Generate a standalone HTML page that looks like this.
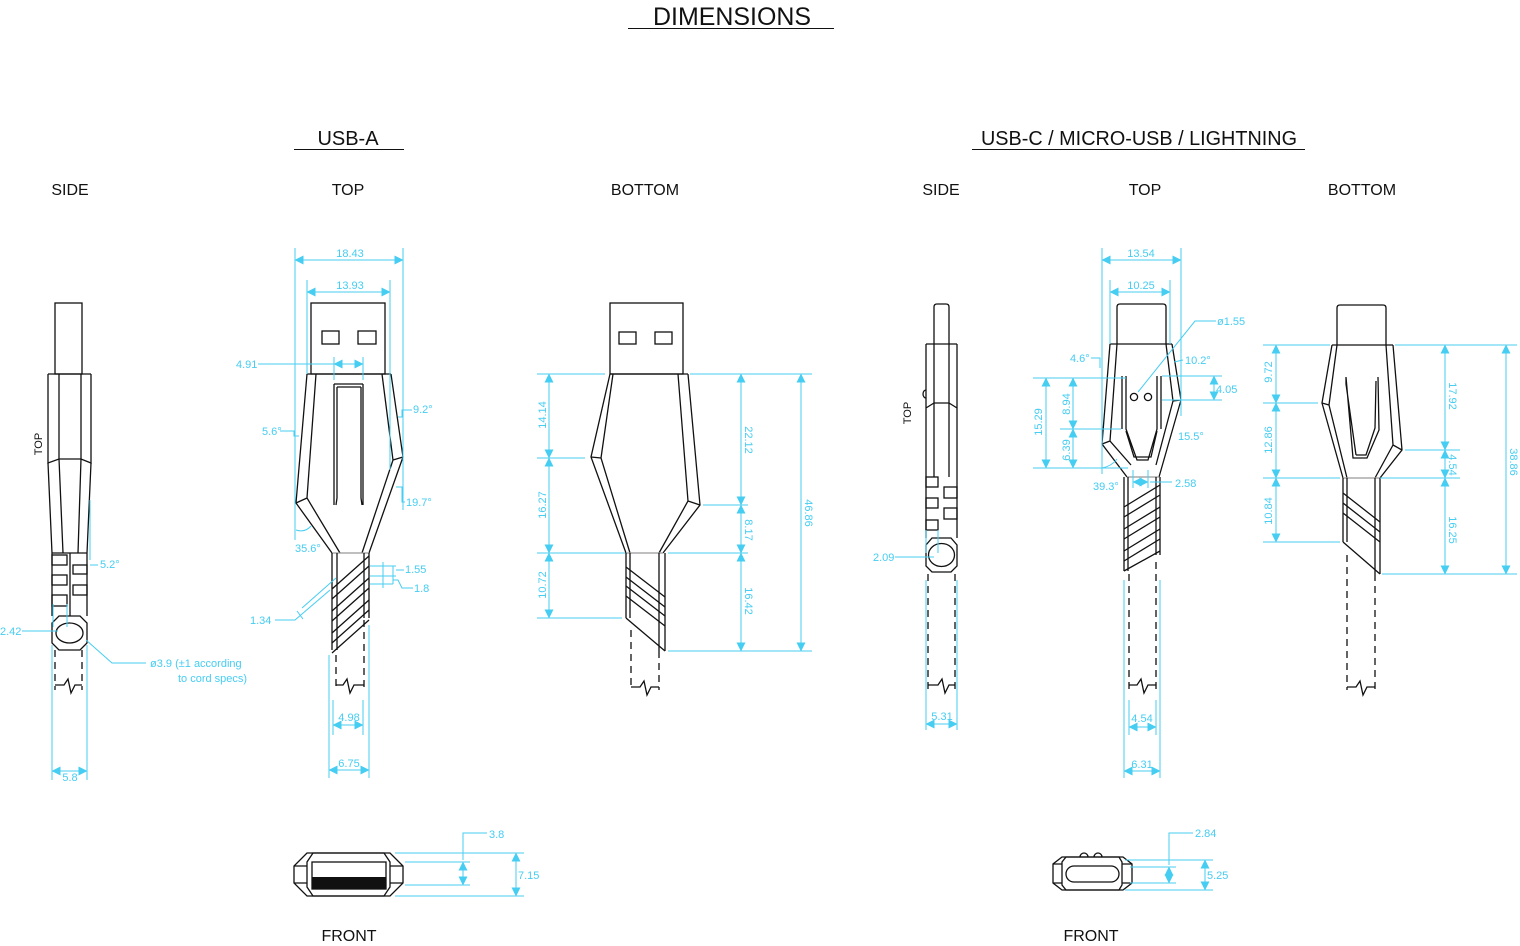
<!DOCTYPE html>
<html><head><meta charset="utf-8"><style>
html,body{margin:0;padding:0;background:#fff;}
svg{display:block;}
.k{stroke:#111;fill:none;stroke-width:1.3;stroke-linejoin:miter;}
.g{stroke:#999;fill:none;stroke-width:1.2;}
.d{stroke:#111;fill:none;stroke-width:1.3;stroke-dasharray:7 5;}
.b{stroke:#45cdf2;fill:none;stroke-width:1;}
.a{marker-start:url(#ar);marker-end:url(#ar);}
.t{font-family:"Liberation Sans",sans-serif;fill:#111;}
.bt{font-family:"Liberation Sans",sans-serif;fill:#45cdf2;font-size:11px;}
</style></head><body>
<svg width="1520" height="946" viewBox="0 0 1520 946" xmlns="http://www.w3.org/2000/svg">
<defs>
<marker id="ar" viewBox="0 0 10 10" refX="9.5" refY="5" markerWidth="9" markerHeight="9" markerUnits="userSpaceOnUse" orient="auto-start-reverse">
<path d="M0,0 L10,5 L0,10 z" fill="#45cdf2"/></marker>
</defs>

<!-- Titles -->
<text class="t" x="732" y="25" font-size="25" text-anchor="middle" textLength="158" lengthAdjust="spacingAndGlyphs">DIMENSIONS</text>
<line x1="628" y1="28.5" x2="834" y2="28.5" stroke="#111"/>
<text class="t" x="348" y="145" font-size="20" text-anchor="middle">USB-A</text>
<line x1="294" y1="149.5" x2="404" y2="149.5" stroke="#111"/>
<text class="t" x="1139" y="145" font-size="20" text-anchor="middle" textLength="316" lengthAdjust="spacingAndGlyphs">USB-C / MICRO-USB / LIGHTNING</text>
<line x1="972" y1="149.5" x2="1305" y2="149.5" stroke="#111"/>
<g class="t" font-size="16" text-anchor="middle">
<text x="70" y="195">SIDE</text><text x="348" y="195">TOP</text><text x="645" y="195">BOTTOM</text>
<text x="941" y="195">SIDE</text><text x="1145" y="195">TOP</text><text x="1362" y="195">BOTTOM</text>
<text x="349" y="941">FRONT</text><text x="1091" y="941">FRONT</text>
</g>

<!-- ========== USB-A SIDE ========== -->
<rect class="k" x="55" y="303" width="27" height="71"/>
<path class="k" d="M48,374 H91 M48,374 V463 L59,459 H81 L91,463 V374 M59,374 V459 M81,374 V459"/>
<path class="k" d="M48,463 L52,553 M91,463 L87,553 M59,459 L63,553 M81,459 L78,553 M52,553 H87"/>
<path class="k" d="M52,553 V616 M87,553 V616 M70,553 V616"/>
<rect class="k" x="52" y="555" width="15" height="10"/><rect class="k" x="52" y="575" width="15" height="10"/><rect class="k" x="52" y="595" width="15" height="11"/>
<rect class="k" x="73" y="565" width="14" height="9"/><rect class="k" x="73" y="585" width="14" height="10"/>
<polygon class="k" points="59,616 80,616 87,623 87,643 80,650 59,650 52,643 52,623"/>
<ellipse class="k" cx="69.5" cy="633" rx="13.5" ry="10"/>
<path class="d" d="M55,650 V690 M82,650 V690"/>
<path class="k" d="M55,685 H64 L68,679 L71,693 L75,685 H82"/>
<text class="t" x="42" y="444" font-size="11" transform="rotate(-90 42 444)" text-anchor="middle">TOP</text>
<path class="b" d="M52,645 V780 M87,645 V780 M90,500 V560 M90,565 H98"/>
<line class="b a" x1="52" y1="771" x2="87" y2="771"/>
<text class="bt" x="70" y="781" text-anchor="middle">5.8</text>
<text class="bt" x="100" y="568">5.2°</text>
<path class="b" d="M22,631 H58 M53,604 V627 M67,604 V627 M86,640 L112,663 H146"/>
<text class="bt" x="0" y="635">2.42</text>
<text class="bt" x="150" y="667">ø3.9 (±1 according</text>
<text class="bt" x="178" y="682">to cord specs)</text>

<!-- ========== USB-A TOP ========== -->
<rect class="k" x="311" y="303" width="74" height="71"/>
<rect class="k" x="322" y="331" width="17" height="13"/><rect class="k" x="358" y="331" width="18" height="13"/>
<path class="k" d="M307,374 H391 M307,374 L296,503 L332,553 M316,374 L307,498 L340,553 M307,498 L296,503"/>
<path class="k" d="M391,374 L403,457 L369,553 M382,374 L393,460 L362,553 M393,460 L403,457"/>
<path class="k" d="M334,384 V505 M363,384 V505 M337,387 V498 L336,505 M361,387 V498 L362,505 M334,384 H363 M337,387 H361"/>
<line class="g" x1="332" y1="553" x2="369" y2="553"/>
<path class="k" d="M332,553 V650 M337,553 V650 M369,553 V618 M364,553 V618"/>
<path class="k" d="M332,589 L369,556 M332,599 L369,566 M332,611 L369,578 M332,621 L369,588 M332,633 L369,600 M332,643 L369,610 M332,653 L369,620"/>
<path class="d" d="M336,655 V690 M364,620 V690"/>
<path class="k" d="M336,685 H343 L347,679 L350,693 L354,685 H364"/>
<path class="b" d="M295,248 V540 M403,248 V510 M307,280 V374 M390,280 V470"/>
<line class="b a" x1="295" y1="260" x2="403" y2="260"/><text class="bt" x="350" y="257" text-anchor="middle">18.43</text>
<line class="b a" x1="307" y1="292" x2="390" y2="292"/><text class="bt" x="350" y="289" text-anchor="middle">13.93</text>
<path class="b" d="M258,364 H334 M334,357 V380 M363,357 V380"/>
<line class="b a" x1="334" y1="364" x2="363" y2="364"/><text class="bt" x="236" y="368">4.91</text>
<path class="b" d="M280,431 H294 V436 H299"/><text class="bt" x="262" y="435">5.6°</text>
<path class="b" d="M398,417 H402 V410 H412"/><text class="bt" x="413" y="413">9.2°</text>
<path class="b" d="M396,487 H402 V502 H405"/><text class="bt" x="406" y="506">19.7°</text>
<path class="b" d="M296,530 Q305,533 311,526"/><text class="bt" x="295" y="552">35.6°</text>
<path class="b" d="M370,566 H396 M370,576 H396 M370,584 H393 M393,566 V584 M383,562 V588 M396,570 H404 M393,580 H398 L402,588 H413"/>
<text class="bt" x="405" y="573">1.55</text><text class="bt" x="414" y="592">1.8</text>
<path class="b" d="M275,620 H295 L330,590 M302,608 L336,578 M297,611 L303,619"/>
<text class="bt" x="250" y="624">1.34</text>
<path class="b" d="M333,700 V735 M363,700 V735 M329,655 V778 M369,625 V778"/>
<line class="b a" x1="333" y1="725" x2="363" y2="725"/><text class="bt" x="349" y="721" text-anchor="middle">4.98</text>
<line class="b a" x1="329" y1="770" x2="369" y2="770"/><text class="bt" x="349" y="767" text-anchor="middle">6.75</text>

<!-- ========== USB-A BOTTOM ========== -->
<rect class="k" x="610" y="303" width="73" height="71"/>
<rect class="k" x="619" y="332" width="17" height="12"/><rect class="k" x="655" y="332" width="17" height="12"/>
<path class="k" d="M610,374 H688 M610,374 L591,457 L626,553 M613,374 L601,458 L630,553 M591,457 L601,458"/>
<path class="k" d="M688,374 L700,505 L663,553 M678,374 L688,501 L659,553 M688,501 L700,505"/>
<line class="g" x1="626" y1="553" x2="663" y2="553"/>
<path class="k" d="M626,553 V618 M630,553 V618 M659,553 V651 M665,553 V651"/>
<path class="k" d="M626,567 L665,597 M626,577 L665,607 M626,586 L665,616 M626,596 L665,626 M626,618 L665,651"/>
<path class="d" d="M631,630 V690 M659,651 V690"/>
<path class="k" d="M631,687 H640 L644,681 L647,695 L651,687 H659"/>
<path class="b" d="M537,374 H605 M690,374 H812 M537,458 H585 M703,505 H748 M537,553 H625 M668,553 H748 M537,618 H622 M668,651 H812"/>
<line class="b a" x1="549" y1="374" x2="549" y2="458"/><line class="b a" x1="549" y1="458" x2="549" y2="553"/><line class="b a" x1="549" y1="553" x2="549" y2="618"/>
<line class="b a" x1="741" y1="374" x2="741" y2="505"/><line class="b a" x1="741" y1="505" x2="741" y2="553"/><line class="b a" x1="741" y1="553" x2="741" y2="651"/>
<line class="b a" x1="801" y1="374" x2="801" y2="651"/>
<g class="bt" text-anchor="middle">
<text transform="translate(546,415) rotate(-90)">14.14</text>
<text transform="translate(546,505) rotate(-90)">16.27</text>
<text transform="translate(546,585) rotate(-90)">10.72</text>
<text transform="translate(745,440) rotate(90)">22.12</text>
<text transform="translate(745,530) rotate(90)">8.17</text>
<text transform="translate(745,601) rotate(90)">16.42</text>
<text transform="translate(805,513) rotate(90)">46.86</text>
</g>

<!-- ========== USB-C SIDE ========== -->
<path class="k" d="M934,344 V307 Q934,304 937,304 H946 Q949,304 949,307 V344"/>
<path class="k" d="M926,344 H957 M926,344 V538 M957,344 V538 M934,344 V477 M949,344 V477 M926,408 L934,403 H949 L957,408"/>
<path class="k" d="M926,398 A3,4 0 0 1 926,390"/>
<rect class="k" x="926" y="477" width="12" height="10"/><rect class="k" x="926" y="498" width="12" height="10"/><rect class="k" x="926" y="520" width="12" height="10"/>
<rect class="k" x="944" y="487" width="13" height="11"/><rect class="k" x="944" y="508" width="13" height="11"/>
<polygon class="k" points="932,538 951,538 957,545 957,566 951,572 932,572 926,566 926,545"/>
<ellipse class="k" cx="941.5" cy="555" rx="13" ry="11.5"/>
<path class="d" d="M928,574 V690 M955,574 V690"/>
<path class="k" d="M928,685 H938 L942,679 L945,693 L949,685 H955"/>
<text class="t" x="911" y="413" font-size="11" transform="rotate(-90 911 413)" text-anchor="middle">TOP</text>
<path class="b" d="M895,557 H934 M926,530 V553 M938,530 V553 M926,580 V730 M957,580 V730"/>
<text class="bt" x="873" y="561">2.09</text>
<line class="b a" x1="926" y1="724" x2="957" y2="724"/><text class="bt" x="942" y="720" text-anchor="middle">5.31</text>

<!-- ========== USB-C TOP ========== -->
<path class="k" d="M1117,344 V307 Q1117,304 1120,304 H1163 Q1166,304 1166,307 V344"/>
<path class="k" d="M1110,344 H1172 M1110,344 L1102,444 L1127,477 M1117,344 L1110,441 L1131,465 M1102,444 L1110,441"/>
<path class="k" d="M1172,344 L1181,400 L1159,477 M1166,344 L1173,401 L1156,465 M1181,400 L1173,401"/>
<path class="k" d="M1126,376 V429 L1137,460 H1148 L1157,429 V376 M1122,376 V429 M1161,376 V429 M1126,431 L1134,457 H1151 L1157,431"/>
<circle class="k" cx="1134" cy="397" r="3.6"/><circle class="k" cx="1148" cy="397" r="3.6"/>
<line class="g" x1="1127" y1="477" x2="1159" y2="477"/>
<path class="k" d="M1124,477 V571 M1128,477 V571 M1160,477 V555 M1156,477 V555"/>
<path class="k" d="M1124,507 L1160,485 M1124,517 L1160,495 M1124,529 L1160,507 M1124,539 L1160,517 M1124,551 L1160,529 M1124,561 L1160,539 M1124,571 L1160,551"/>
<path class="d" d="M1129,574 V690 M1156,562 V690"/>
<path class="k" d="M1129,685 H1137 L1141,679 L1144,693 L1148,685 H1156"/>
<path class="b" d="M1102,248 V474 M1181,248 V416 M1110,280 V344 M1170,280 V344"/>
<line class="b a" x1="1102" y1="260" x2="1181" y2="260"/><text class="bt" x="1141" y="257" text-anchor="middle">13.54</text>
<line class="b a" x1="1110" y1="292" x2="1170" y2="292"/><text class="bt" x="1141" y="289" text-anchor="middle">10.25</text>
<path class="b" d="M1216,321 H1195 L1138,392"/><text class="bt" x="1217" y="325">ø1.55</text>
<path class="b" d="M1091,358 H1100 V368"/><text class="bt" x="1070" y="362">4.6°</text>
<path class="b" d="M1174,362 L1183,360"/><text class="bt" x="1185" y="364">10.2°</text>
<path class="b" d="M1162,376 H1222 M1162,400 H1222"/>
<line class="b a" x1="1214" y1="376" x2="1214" y2="400"/><text class="bt" x="1216" y="393">4.05</text>
<text class="bt" x="1178" y="440">15.5°</text>
<path class="b" d="M1033,378 H1126 M1060,429 H1121 M1033,468 H1128"/>
<line class="b a" x1="1046" y1="378" x2="1046" y2="468"/>
<line class="b a" x1="1073" y1="378" x2="1073" y2="429"/><line class="b a" x1="1073" y1="429" x2="1073" y2="468"/>
<g class="bt" text-anchor="middle">
<text transform="translate(1042,422) rotate(-90)">15.29</text>
<text transform="translate(1070,404) rotate(-90)">8.94</text>
<text transform="translate(1070,450) rotate(-90)">6.39</text>
</g>
<path class="b" d="M1102,468 Q1112,466 1117,459"/><text class="bt" x="1093" y="490">39.3°</text>
<path class="b" d="M1133,470 V488 M1148,470 V488 M1150,482 H1172"/>
<line class="b a" x1="1133" y1="482" x2="1148" y2="482"/><text class="bt" x="1175" y="487">2.58</text>
<path class="b" d="M1129,700 V735 M1156,700 V735 M1124,580 V778 M1160,580 V778"/>
<line class="b a" x1="1129" y1="727" x2="1156" y2="727"/><text class="bt" x="1142" y="722" text-anchor="middle">4.54</text>
<line class="b a" x1="1124" y1="771" x2="1160" y2="771"/><text class="bt" x="1142" y="768" text-anchor="middle">6.31</text>

<!-- ========== USB-C BOTTOM ========== -->
<path class="k" d="M1337,345 V308 Q1337,305 1340,305 H1383 Q1386,305 1386,308 V345"/>
<path class="k" d="M1332,345 H1393 M1332,345 L1322,403 L1343,478 M1337,345 L1329,405 L1347,478 M1322,403 L1329,405"/>
<path class="k" d="M1393,345 L1402,450 L1380,478 M1386,345 L1393,445 L1375,478 M1393,445 L1402,450"/>
<path class="k" d="M1346,377 L1353,458 H1367 L1379,430 L1378,377 M1346,377 V384 L1356,455 M1376,381 L1375,428 L1366,455 H1356"/>
<line class="g" x1="1343" y1="478" x2="1380" y2="478"/>
<path class="k" d="M1343,478 V542 M1347,478 V542 M1375,478 V574 M1380,478 V574"/>
<path class="k" d="M1343,493 L1380,522 M1343,503 L1380,532 M1343,513 L1380,542 M1343,542 L1380,574"/>
<path class="d" d="M1347,555 V690 M1375,574 V690"/>
<path class="k" d="M1347,687 H1356 L1360,681 L1363,695 L1367,687 H1375"/>
<path class="b" d="M1263,345 H1330 M1395,345 H1517 M1263,403 H1318 M1263,478 H1340 M1380,478 H1460 M1405,450 H1460 M1263,542 H1340 M1382,574 H1517"/>
<line class="b a" x1="1276" y1="345" x2="1276" y2="403"/><line class="b a" x1="1276" y1="403" x2="1276" y2="478"/><line class="b a" x1="1276" y1="478" x2="1276" y2="542"/>
<line class="b a" x1="1445" y1="345" x2="1445" y2="450"/><line class="b a" x1="1445" y1="450" x2="1445" y2="478"/><line class="b a" x1="1445" y1="478" x2="1445" y2="574"/>
<line class="b a" x1="1506" y1="345" x2="1506" y2="574"/>
<g class="bt" text-anchor="middle">
<text transform="translate(1272,372) rotate(-90)">9.72</text>
<text transform="translate(1272,440) rotate(-90)">12.86</text>
<text transform="translate(1272,511) rotate(-90)">10.84</text>
<text transform="translate(1449,396) rotate(90)">17.92</text>
<text transform="translate(1449,465) rotate(90)">4.54</text>
<text transform="translate(1449,530) rotate(90)">16.25</text>
<text transform="translate(1510,462) rotate(90)">38.86</text>
</g>

<!-- ========== FRONT USB-A ========== -->
<polygon class="k" points="307,853 390,853 403,866 403,883 390,896 307,896 294,883 294,866"/>
<polygon class="k" points="313,853 384,853 390,862 390,887 384,896 313,896 307,887 307,862"/>
<path class="k" d="M294,866 H307 M294,883 H307 M390,866 H403 M390,883 H403"/>
<rect class="k" x="312" y="862" width="74" height="27"/>
<rect x="312" y="877" width="74" height="12" fill="#111"/>
<path class="b" d="M395,853 H524 M405,862 H470 M405,885 H470 M395,896 H524 M463,860 V833 H487"/>
<line class="b a" x1="463" y1="862" x2="463" y2="885"/>
<line class="b a" x1="516" y1="853" x2="516" y2="896"/>
<text class="bt" x="489" y="838">3.8</text><text class="bt" x="518" y="879">7.15</text>

<!-- ========== FRONT USB-C ========== -->
<path class="k" d="M1080,857 A4,4 0 0 1 1088,857 M1094,857 A4,4 0 0 1 1102,857"/>
<polygon class="k" points="1062,857 1123,857 1132,864 1132,883 1123,890 1062,890 1053,883 1053,864"/>
<polygon class="k" points="1066,857 1119,857 1122,862 1122,885 1119,890 1066,890 1062,885 1062,862"/>
<path class="k" d="M1053,864 H1062 M1053,883 H1062 M1122,864 H1132 M1122,883 H1132"/>
<rect class="k" x="1066" y="866" width="53" height="16" rx="8"/>
<path class="b" d="M1125,860 H1213 M1130,867 H1176 M1130,883 H1176 M1125,890 H1213 M1169,865 V833 H1193"/>
<line class="b a" x1="1169" y1="867" x2="1169" y2="883"/>
<line class="b a" x1="1205" y1="860" x2="1205" y2="890"/>
<text class="bt" x="1195" y="837">2.84</text><text class="bt" x="1207" y="879">5.25</text>
</svg>
</body></html>
